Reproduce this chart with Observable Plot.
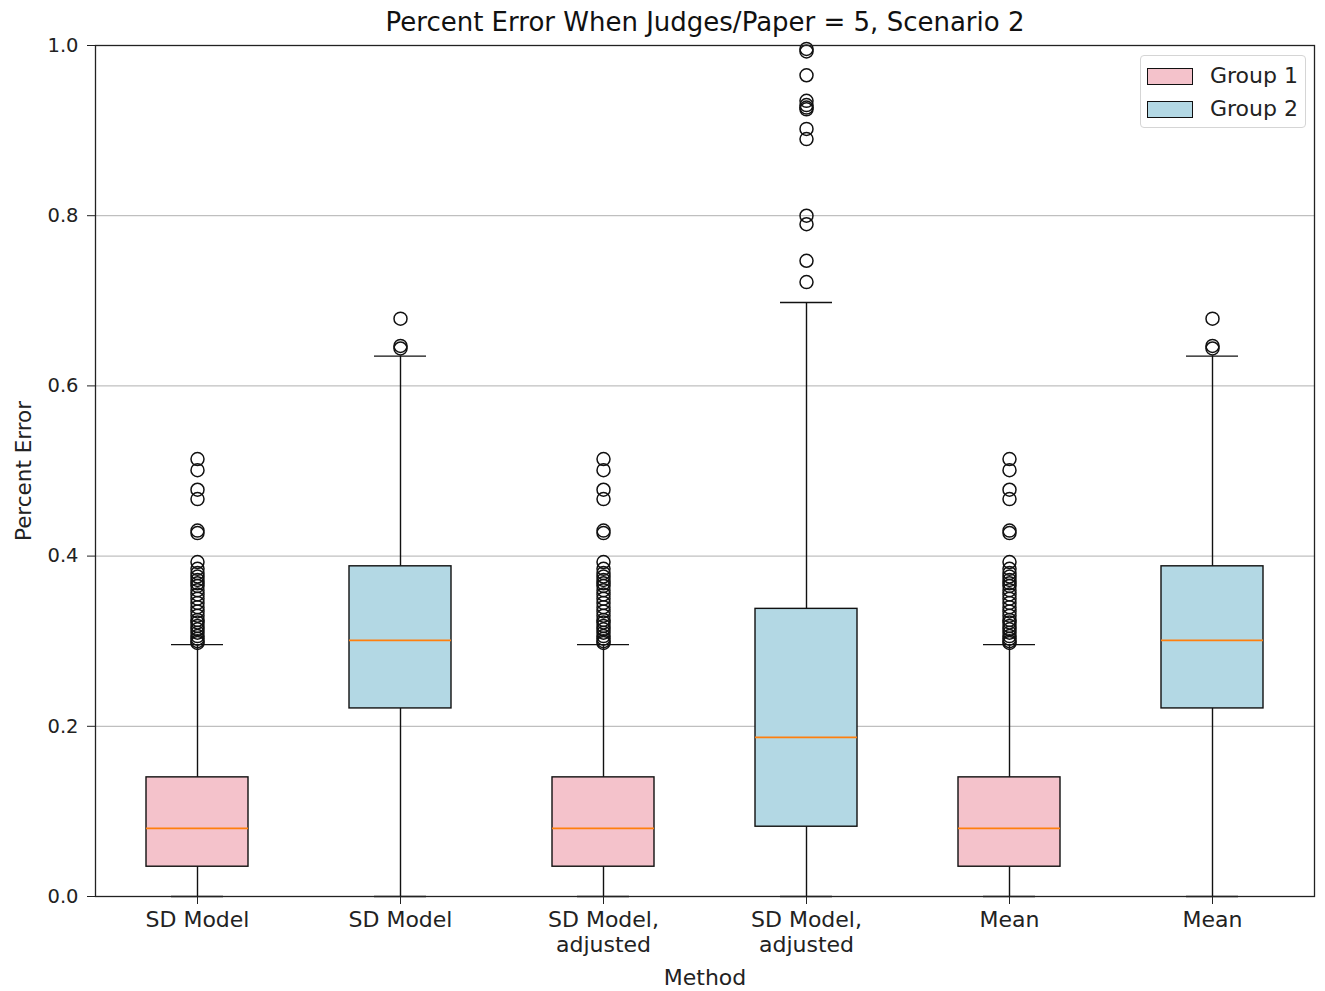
<!DOCTYPE html>
<html>
<head>
<meta charset="utf-8">
<script src="https://cdn.jsdelivr.net/npm/d3@7"></script>
<script src="https://cdn.jsdelivr.net/npm/@observablehq/plot@0.6"></script>
<style>
  body { margin: 0; background: #fff; font-family: "DejaVu Sans", sans-serif; }
  #wrap { position: relative; width: 1325px; height: 991px; }
  #legend { position: absolute; left: 1140px; top: 55px; width: 166px; height: 73px;
    border: 1px solid #d5d5d5; border-radius: 4px; background: rgba(255,255,255,0.8);
    box-sizing: border-box; font-family: "DejaVu Sans", sans-serif; font-size: 22px; color: #222; }
  .item { position: absolute; left: 6px; display: flex; align-items: center; line-height: 1; }
  .sw { width: 46px; height: 17px; border: 1.3px solid #111; box-sizing: border-box; margin-right: 17px; }
</style>
</head>
<body>
<div id="wrap"></div>
<script>
const methods = [0, 1, 2, 3, 4, 5];
const tickLabels = ["SD Model", "SD Model", "SD Model,\nadjusted", "SD Model,\nadjusted", "Mean", "Mean"];
const groups = ["Group 1", "Group 2", "Group 1", "Group 2", "Group 1", "Group 2"];
const q1 = [0.035, 0.221, 0.035, 0.082, 0.035, 0.221];
const medians = [0.080, 0.301, 0.080, 0.187, 0.080, 0.301];
const q3 = [0.140, 0.388, 0.140, 0.338, 0.140, 0.388];
const whiskerLow = [0, 0, 0, 0, 0, 0];
const whiskerHigh = [0.296, 0.635, 0.296, 0.698, 0.296, 0.635];
const group1Outliers = [0.514, 0.501, 0.478, 0.467, 0.430, 0.427, 0.393, 0.385, 0.380, 0.376, 0.372, 0.368, 0.365, 0.360, 0.355, 0.350, 0.345, 0.340, 0.335, 0.330, 0.325, 0.322, 0.318, 0.314, 0.310, 0.306, 0.303, 0.300, 0.298];
const group2Outliers = [0.679, 0.647, 0.644];
const adjustedGroup2Outliers = [0.996, 0.993, 0.965, 0.935, 0.930, 0.927, 0.925, 0.902, 0.890, 0.800, 0.790, 0.747, 0.722];
const boxOutliers = [group1Outliers, group2Outliers, group1Outliers, adjustedGroup2Outliers, group1Outliers, group2Outliers];
const yTicks = [0, 0.2, 0.4, 0.6, 0.8, 1.0];
const groupColors = {"Group 1": "#f4c2cb", "Group 2": "#b3d8e4"};
const title = "Percent Error When Judges/Paper = 5, Scenario 2";

const boxes = methods.map(i => ({
  m: i, group: groups[i], q1: q1[i], med: medians[i], q3: q3[i], lo: whiskerLow[i], hi: whiskerHigh[i]
}));
const outs = methods.flatMap(i => boxOutliers[i].map(v => ({m: i, v})));

const chart = Plot.plot({
  width: 1325, height: 991,
  marginLeft: 95, marginRight: 11, marginTop: 45, marginBottom: 95,
  style: {fontFamily: "DejaVu Sans, sans-serif", fontSize: "19px", color: "#222", background: "white"},
  x: {type: "band", domain: methods, paddingInner: 0.5, paddingOuter: 0.25},
  y: {domain: [0, 1]},
  marks: [
    Plot.gridY(yTicks.slice(1, -1), {stroke: "#b0b0b0", strokeOpacity: 1, strokeWidth: 1}),
    Plot.ruleX(boxes, {x: "m", y1: "q3", y2: "hi", stroke: "#111", strokeWidth: 1.4}),
    Plot.ruleX(boxes, {x: "m", y1: "lo", y2: "q1", stroke: "#111", strokeWidth: 1.4}),
    Plot.tickY(boxes, {x: "m", y: "hi", stroke: "#111", strokeWidth: 1.4, inset: 25}),
    Plot.tickY(boxes, {x: "m", y: "lo", stroke: "#111", strokeWidth: 1.4, inset: 25}),
    Plot.barY(boxes, {x: "m", y1: "q1", y2: "q3", fill: d => groupColors[d.group], stroke: "#111", strokeWidth: 1.4}),
    Plot.tickY(boxes, {x: "m", y: "med", stroke: "#ff7f0e", strokeWidth: 1.6}),
    Plot.dot(outs, {x: "m", y: "v", r: 6.5, stroke: "#111", fill: "none", strokeWidth: 1.5}),
    Plot.axisY({ticks: yTicks, tickFormat: d3.format(".1f"), tickSize: 8, tickPadding: 9, label: null, fontSize: 19.5}),
    Plot.axisX({tickFormat: i => tickLabels[i], tickSize: 8, tickPadding: 5, label: null, fontSize: 22, lineHeight: 1.12}),
    Plot.frame({stroke: "#222", strokeWidth: 1.3}),
    Plot.text([title], {frameAnchor: "top", dy: -23, lineAnchor: "middle", fontSize: 26, fill: "#111"}),
    Plot.text(["Method"], {frameAnchor: "bottom", dy: 81, lineAnchor: "middle", fontSize: 22, fill: "#222"}),
    Plot.text(["Percent Error"], {frameAnchor: "left", dx: -71, rotate: -90, textAnchor: "middle", lineAnchor: "middle", fontSize: 21.5, fill: "#222"})
  ]
});

const wrap = document.getElementById("wrap");
wrap.appendChild(chart);
const legend = document.createElement("div");
legend.id = "legend";
["Group 1", "Group 2"].forEach((g, k) => {
  const it = document.createElement("div");
  it.className = "item";
  it.style.top = (k === 0 ? 9 : 42) + "px";
  const sw = document.createElement("div");
  sw.className = "sw";
  sw.style.background = groupColors[g];
  const t = document.createElement("span");
  t.textContent = g;
  it.appendChild(sw); it.appendChild(t);
  legend.appendChild(it);
});
wrap.appendChild(legend);
</script>
</body>
</html>
